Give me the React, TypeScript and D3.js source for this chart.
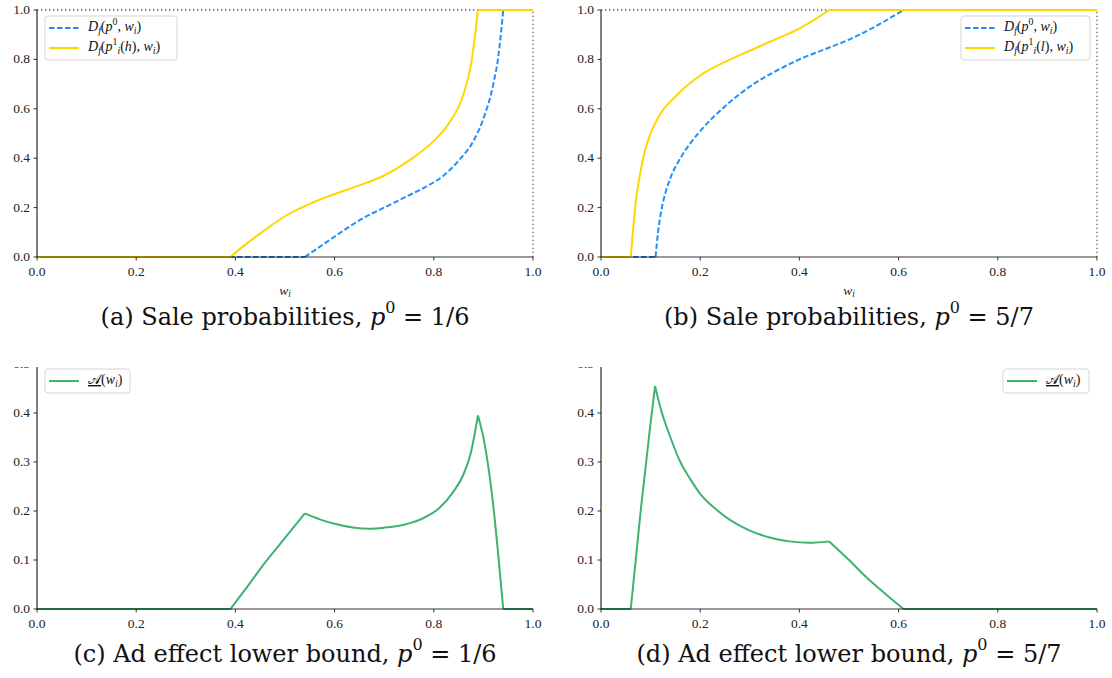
import * as d3 from "d3";

// ---- data ----
const xTicks = [0, 0.2, 0.4, 0.6, 0.8, 1.0];
const yTicksTop = [0, 0.2, 0.4, 0.6, 0.8, 1.0];
const yTicksBottom = [0, 0.1, 0.2, 0.3, 0.4, 0.5];

// (a) p0 = 1/6
const aBlueW = [0, 0.54, 0.58, 0.62, 0.66, 0.7, 0.74, 0.78, 0.82, 0.85, 0.88, 0.9, 0.92, 0.93, 0.94, 1.0];
const aBlueD = [0, 0, 0.055, 0.11, 0.16, 0.2, 0.24, 0.28, 0.33, 0.39, 0.47, 0.56, 0.7, 0.81, 1.0, 1.0];
const aBlueKinks = [0.54, 0.94];
const aGoldW = [0, 0.39, 0.42, 0.46, 0.5, 0.55, 0.6, 0.65, 0.7, 0.75, 0.8, 0.83, 0.86, 0.875, 0.889, 1.0];
const aGoldD = [0, 0, 0.05, 0.11, 0.165, 0.215, 0.255, 0.29, 0.33, 0.39, 0.47, 0.54, 0.66, 0.78, 1.0, 1.0];
const aGoldKinks = [0.39, 0.889];

// (b) p0 = 5/7
const bBlueW = [0, 0.11, 0.115, 0.12, 0.13, 0.14, 0.16, 0.18, 0.2, 0.25, 0.3, 0.35, 0.4, 0.45, 0.5, 0.55, 0.61, 1.0];
const bBlueD = [0, 0, 0.1, 0.17, 0.26, 0.32, 0.4, 0.46, 0.51, 0.61, 0.69, 0.75, 0.8, 0.84, 0.88, 0.93, 1.0, 1.0];
const bBlueKinks = [0.11, 0.61];
const bGoldW = [0, 0.06, 0.065, 0.07, 0.08, 0.09, 0.1, 0.12, 0.15, 0.2, 0.25, 0.3, 0.35, 0.4, 0.43, 0.46, 1.0];
const bGoldD = [0, 0, 0.12, 0.22, 0.35, 0.44, 0.5, 0.58, 0.65, 0.735, 0.79, 0.835, 0.88, 0.925, 0.96, 1.0, 1.0];
const bGoldKinks = [0.06, 0.46];

// (c) ad effect lower bound, p0 = 1/6
const cW = [0, 0.39, 0.42, 0.46, 0.5, 0.54, 0.57, 0.6, 0.64, 0.67, 0.7, 0.74, 0.78, 0.81, 0.84, 0.86, 0.875, 0.889, 0.9, 0.91, 0.92, 0.93, 0.94, 1.0];
const cA = [0, 0, 0.04, 0.095, 0.145, 0.195, 0.183, 0.174, 0.166, 0.164, 0.166, 0.172, 0.186, 0.205, 0.24, 0.275, 0.32, 0.395, 0.35, 0.29, 0.21, 0.11, 0, 0];
const cKinks = [0.39, 0.54, 0.889, 0.94];

// (d) ad effect lower bound, p0 = 5/7
const dW = [0, 0.06, 0.07, 0.08, 0.09, 0.1, 0.109, 0.12, 0.14, 0.16, 0.18, 0.2, 0.23, 0.26, 0.3, 0.34, 0.38, 0.42, 0.46, 0.5, 0.54, 0.58, 0.61, 1.0];
const dA = [0, 0, 0.1, 0.2, 0.29, 0.38, 0.455, 0.41, 0.35, 0.3, 0.265, 0.235, 0.205, 0.182, 0.16, 0.146, 0.138, 0.135, 0.138, 0.1, 0.06, 0.025, 0, 0];
const dKinks = [0.06, 0.109, 0.46, 0.61];

const BLUE = "#1e90ff";
const GOLD = "#ffd700";
const GREEN = "#3cb371";
const FONT = "'Liberation Serif', serif";
const CAPFONT = "'DejaVu Serif', serif";

type Part = { t: string; s?: "sub" | "sup"; i?: boolean; u?: boolean };

// math-ish text via tspans
function MathText({ x, y, parts, size }: { x: number; y: number; parts: Part[]; size: number }) {
  let cur = 0;
  return (
    <text x={x} y={y} fontSize={size} fontFamily={FONT} dominantBaseline="middle" fill="#111">
      {parts.map((p, k) => {
        let target = 0;
        let fs = size;
        if (p.s === "sub") { target = size * 0.3; fs = size * 0.7; }
        if (p.s === "sup") { target = -size * 0.35; fs = size * 0.7; }
        const dy = target - cur;
        cur = target;
        return (
          <tspan key={k} dy={dy} fontSize={fs} fontStyle={p.i ? "italic" : "normal"}
            textDecoration={p.u ? "underline" : undefined}>
            {p.t}
          </tspan>
        );
      })}
    </text>
  );
}

const legD0: Part[] = [
  { t: "D", i: true }, { t: "f", s: "sub", i: true }, { t: "(" }, { t: "p", i: true }, { t: "0", s: "sup" },
  { t: ", " }, { t: "w", i: true }, { t: "i", s: "sub", i: true }, { t: ")" },
];
const legD1 = (c: string): Part[] => [
  { t: "D", i: true }, { t: "f", s: "sub", i: true }, { t: "(" }, { t: "p", i: true }, { t: "1", s: "sup" },
  { t: "i", s: "sub", i: true }, { t: "(" }, { t: c, i: true }, { t: "), " }, { t: "w", i: true },
  { t: "i", s: "sub", i: true }, { t: ")" },
];
const legA: Part[] = [{ t: "𝒜", u: true }, { t: "(" }, { t: "w", i: true }, { t: "i", s: "sub", i: true }, { t: ")" }];

type Series = { xs: number[]; ys: number[]; kinks: number[]; color: string; dash?: string };

function Panel(props: {
  x0: number; x1: number; yTop: number; yBot: number; yMax: number; yTicks: number[];
  series: Series[]; legend: { x: number; y: number; w: number; rows: { color: string; dash?: string; parts: Part[] }[] };
  dotted: boolean; xlabel: boolean; caption: string; capY: number; clipTop?: number; id: string;
}) {
  const x = d3.scaleLinear().domain([0, 1]).range([props.x0, props.x1]);
  const y = d3.scaleLinear().domain([0, props.yMax]).range([props.yBot, props.yTop]);
  const line = d3.line<[number, number]>().x((d) => x(d[0])).y((d) => y(d[1])).curve(d3.curveMonotoneX);

  // split at kinks so corners stay sharp
  const pathFor = (s: Series) => {
    const pts: [number, number][] = s.xs.map((v, i) => [v, s.ys[i]]);
    const cuts = [0, ...s.kinks, 1];
    let out = "";
    for (let k = 0; k < cuts.length - 1; k++) {
      const seg = pts.filter((p) => p[0] >= cuts[k] - 1e-9 && p[0] <= cuts[k + 1] + 1e-9);
      if (seg.length > 1) out += line(seg);
    }
    return out;
  };

  const lg = props.legend;
  const rowH = 20;
  const lgH = lg.rows.length * rowH + 4;
  const clipId = "clip-" + props.id;
  const cap = props.caption.split("|");

  return (
    <g>
      {props.clipTop !== undefined && (
        <clipPath id={clipId}>
          <rect x={0} y={props.clipTop} width={1112} height={678} />
        </clipPath>
      )}
      <g clipPath={props.clipTop !== undefined ? `url(#${clipId})` : undefined}>
        {props.dotted && (
          <g stroke="#555" strokeWidth={1.3} strokeDasharray="1.3 2.7" fill="none">
            <line x1={x(0)} x2={x(1)} y1={y(1)} y2={y(1)} />
            <line x1={x(1)} x2={x(1)} y1={y(0)} y2={y(1)} />
          </g>
        )}
        {props.series.map((s, i) => (
          <path key={i} d={pathFor(s)} fill="none" stroke={s.color} strokeWidth={2}
            strokeDasharray={s.dash} />
        ))}
        {/* spines */}
        <line x1={x(0)} x2={x(1)} y1={props.yBot} y2={props.yBot} stroke="#000" strokeOpacity={0.8} strokeWidth={1} />
        <line x1={props.x0} x2={props.x0} y1={props.yBot} y2={props.yTop} stroke="#000" strokeWidth={1} />
        {xTicks.map((t) => (
          <g key={"x" + t}>
            <line x1={x(t)} x2={x(t)} y1={props.yBot} y2={props.yBot + 3.5} stroke="#000" strokeWidth={0.8} />
            <text x={x(t)} y={props.yBot + 16} fontSize={13.5} fontFamily={FONT} textAnchor="middle"
              dominantBaseline="middle" fill="#222">{t.toFixed(1)}</text>
          </g>
        ))}
        {props.yTicks.map((t) => (
          <g key={"y" + t}>
            <line x1={props.x0 - 3.5} x2={props.x0} y1={y(t)} y2={y(t)} stroke="#000" strokeWidth={0.8} />
            <text x={props.x0 - 7} y={y(t) + 1} fontSize={13.5} fontFamily={FONT} textAnchor="end"
              dominantBaseline="middle" fill="#222">{t.toFixed(1)}</text>
          </g>
        ))}
        {/* legend */}
        <rect x={lg.x} y={lg.y} width={lg.w} height={lgH} rx={3} fill="#fff" fillOpacity={0.85}
          stroke="#d5d5d5" strokeWidth={1} />
        {lg.rows.map((r, i) => {
          const ry = lg.y + 2 + rowH * i + rowH / 2;
          return (
            <g key={i}>
              <line x1={lg.x + 4} x2={lg.x + 34} y1={ry} y2={ry} stroke={r.color} strokeWidth={2}
                strokeDasharray={r.dash} />
              <MathText x={lg.x + 43} y={ry} parts={r.parts} size={14} />
            </g>
          );
        })}
      </g>
      {props.xlabel && (
        <text x={(props.x0 + props.x1) / 2} y={props.yBot + 35} fontSize={13.5} fontFamily={FONT}
          dominantBaseline="middle" textAnchor="middle" fill="#222">
          <tspan fontStyle="italic">w</tspan>
          <tspan fontStyle="italic" fontSize={9.5} dy={3}>i</tspan>
        </text>
      )}
      <text x={(props.x0 + props.x1) / 2} y={props.capY} fontSize={24} fontFamily={CAPFONT}
        textAnchor="middle" dominantBaseline="middle" fill="#111">
        {cap[0]}
        <tspan fontStyle="italic">p</tspan>
        <tspan fontSize={16} dy={-10}>0</tspan>
        <tspan dy={10}>{cap[1]}</tspan>
      </text>
    </g>
  );
}

export default function App() {
  const topY = { yTop: 10, yBot: 257, yMax: 1, yTicks: yTicksTop };
  const botY = { yTop: 364, yBot: 609, yMax: 0.5, yTicks: yTicksBottom, clipTop: 367 };
  return (
    <svg width={1112} height={678} style={{ position: "absolute", left: 0, top: 0, background: "#fff" }}>
      <Panel id="a" x0={37} x1={533} {...topY}
        series={[
          { xs: aBlueW, ys: aBlueD, kinks: aBlueKinks, color: BLUE, dash: "5.5 2.5" },
          { xs: aGoldW, ys: aGoldD, kinks: aGoldKinks, color: GOLD },
        ]}
        legend={{ x: 45, y: 16, w: 132, rows: [
          { color: BLUE, dash: "5.5 2.5", parts: legD0 },
          { color: GOLD, parts: legD1("h") },
        ] }}
        dotted xlabel caption="(a) Sale probabilities, | = 1/6" capY={318} />
      <Panel id="b" x0={601} x1={1097} {...topY}
        series={[
          { xs: bBlueW, ys: bBlueD, kinks: bBlueKinks, color: BLUE, dash: "5.5 2.5" },
          { xs: bGoldW, ys: bGoldD, kinks: bGoldKinks, color: GOLD },
        ]}
        legend={{ x: 961, y: 16, w: 129, rows: [
          { color: BLUE, dash: "5.5 2.5", parts: legD0 },
          { color: GOLD, parts: legD1("l") },
        ] }}
        dotted xlabel caption="(b) Sale probabilities, | = 5/7" capY={318} />
      <Panel id="c" x0={37} x1={533} {...botY}
        series={[{ xs: cW, ys: cA, kinks: cKinks, color: GREEN }]}
        legend={{ x: 45, y: 369, w: 85, rows: [{ color: GREEN, parts: legA }] }}
        dotted={false} xlabel={false} caption="(c) Ad effect lower bound, | = 1/6" capY={655} />
      <Panel id="d" x0={601} x1={1097} {...botY}
        series={[{ xs: dW, ys: dA, kinks: dKinks, color: GREEN }]}
        legend={{ x: 1003, y: 369, w: 86, rows: [{ color: GREEN, parts: legA }] }}
        dotted={false} xlabel={false} caption="(d) Ad effect lower bound, | = 5/7" capY={655} />
    </svg>
  );
}
